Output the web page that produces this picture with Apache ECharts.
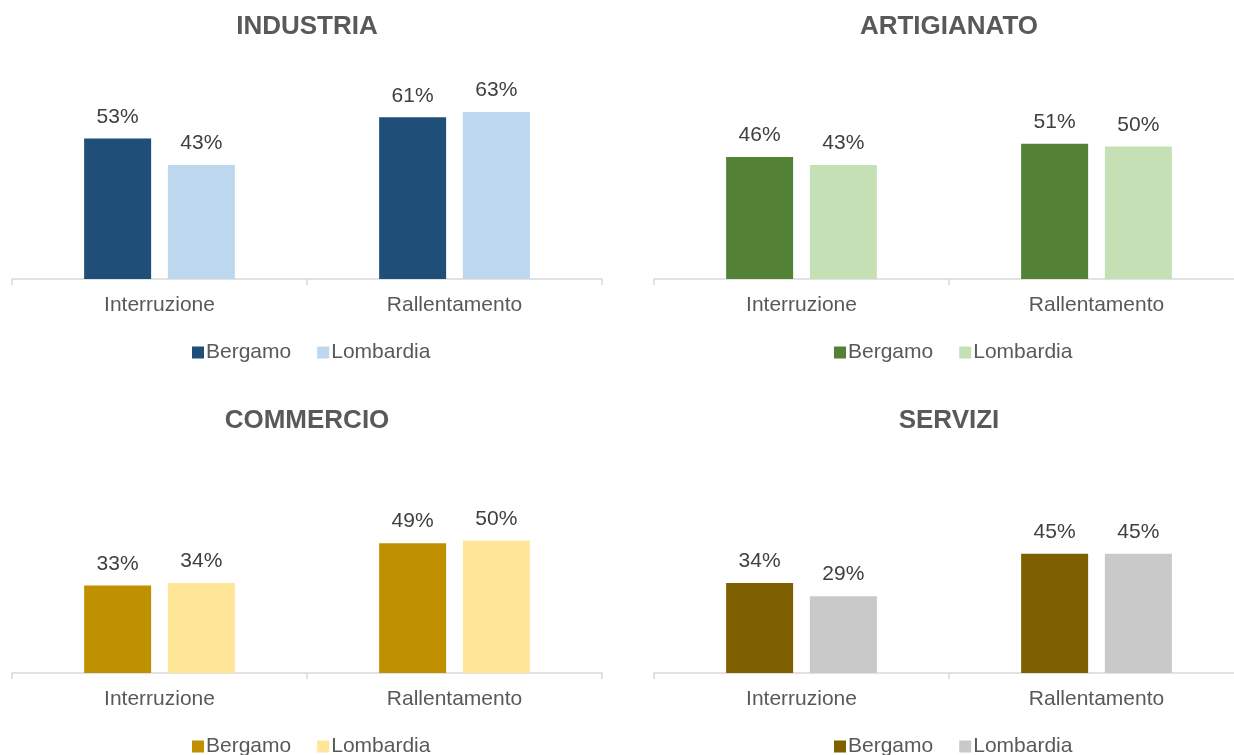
<html>
<head>
    <meta http-equiv="Content-Type" content="text/html; charset=utf-8">
    <script type="text/javascript" src="https://cdn.jsdelivr.net/npm/echarts@6/dist/echarts.min.js"></script>
    <style>
        html, body { margin: 0; padding: 0; background: #fff; overflow: hidden; width: 1234px; height: 755px; }
        .panel { position: absolute; width: 642px; height: 394px; }
    </style>
</head>
<body>
<div class="panel" id="p1" style="left:0;top:0;"></div>
<div class="panel" id="p2" style="left:642px;top:0;"></div>
<div class="panel" id="p3" style="left:0;top:394px;"></div>
<div class="panel" id="p4" style="left:642px;top:394px;"></div>

<script type="text/javascript">
    // dati
    var categories = ['Interruzione', 'Rallentamento'];
    var seriesNames = ['Bergamo', 'Lombardia'];

    var industriaBergamo = [53, 61];
    var industriaLombardia = [43, 63];
    var artigianatoBergamo = [46, 51];
    var artigianatoLombardia = [43, 50];
    var commercioBergamo = [33, 49];
    var commercioLombardia = [34, 50];
    var serviziBergamo = [34, 45];
    var serviziLombardia = [29, 45];

    var FONT = "'Liberation Sans', Arial, sans-serif";

    function drawPanel(id, title, bergamo, lombardia, colors)
    {
        var chart = echarts.init(document.getElementById(id));
        var barLabel = {
            show: true, position: 'top', distance: 11,
            formatter: '{c}%', fontSize: 21, color: '#404040', fontFamily: FONT
        };
        var option = {
            animation: false,
            textStyle: { fontFamily: FONT },
            title: {
                text: title,
                left: 302,
                textAlign: 'center',
                top: 9,
                textStyle: { fontSize: 26, fontWeight: 'bold', color: '#595959', fontFamily: FONT }
            },
            legend: {
                data: seriesNames,
                left: 187,
                top: 337,
                itemWidth: 12,
                itemHeight: 12,
                itemGap: 26,
                icon: 'rect',
                textStyle: { fontSize: 21, color: '#595959', fontFamily: FONT, padding: [0, 0, 0, -3] }
            },
            grid: { left: 12, width: 590, top: 14, bottom: 115 },
            xAxis: {
                type: 'category',
                data: categories,
                axisLine: { lineStyle: { color: '#d9d9d9', width: 1.5 } },
                axisTick: { show: true, length: 6, lineStyle: { color: '#d9d9d9', width: 1.5 } },
                axisLabel: { fontSize: 21, color: '#595959', margin: 16, fontFamily: FONT }
            },
            yAxis: {
                type: 'value',
                min: 0,
                max: 100,
                show: false,
                splitLine: { show: false }
            },
            series: [
                {
                    name: seriesNames[0],
                    type: 'bar',
                    data: bergamo,
                    barWidth: 67,
                    barGap: '25%',
                    itemStyle: { color: colors[0] },
                    label: barLabel
                },
                {
                    name: seriesNames[1],
                    type: 'bar',
                    data: lombardia,
                    barWidth: 67,
                    barGap: '25%',
                    itemStyle: { color: colors[1] },
                    label: barLabel
                }
            ]
        };
        chart.setOption(option);
    }

    drawPanel('p1', 'INDUSTRIA', industriaBergamo, industriaLombardia, ['#1F4E79', '#BDD7EE']);
    drawPanel('p2', 'ARTIGIANATO', artigianatoBergamo, artigianatoLombardia, ['#538135', '#C5E0B4']);
    drawPanel('p3', 'COMMERCIO', commercioBergamo, commercioLombardia, ['#BF9000', '#FFE699']);
    drawPanel('p4', 'SERVIZI', serviziBergamo, serviziLombardia, ['#7F6000', '#C9C9C9']);
</script>
</body>
</html>
